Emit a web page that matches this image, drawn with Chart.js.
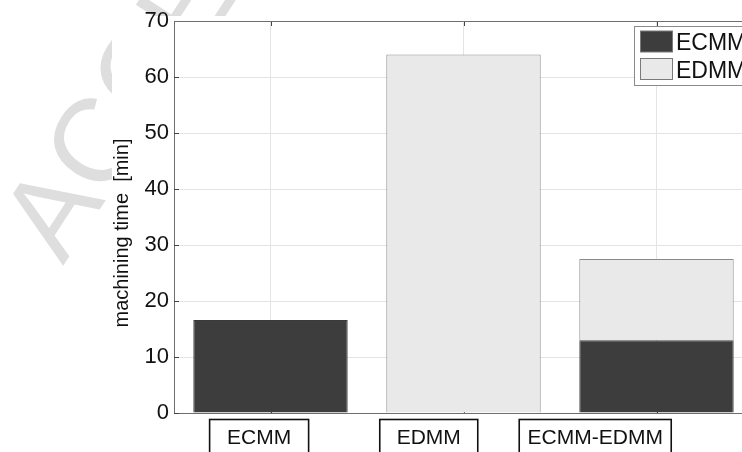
<!DOCTYPE html>
<html><head><meta charset="utf-8">
<script src="https://cdn.jsdelivr.net/npm/chart.js@4/dist/chart.umd.min.js"></script>
<style>
html,body{margin:0;padding:0;background:#fff;overflow:hidden;width:742px;height:452px;}
#wrap{position:absolute;left:0;top:0;width:770px;height:452px;}
</style></head><body>
<div id="wrap"><canvas id="c" width="770" height="452"></canvas></div>
<script>
// ---- data ----
const categories = ['ECMM', 'EDMM', 'ECMM-EDMM'];
const seriesNames = ['ECMM', 'EDMM'];
const ecmmTime = [16.6, null, 13.0];
const edmmTime = [null, 64.0, 14.5];
const yTicks = [0, 10, 20, 30, 40, 50, 60, 70];
const yTitle = 'machining time  [min]';
const watermarkText = 'ACCEPTED MANUSCRIPT';

// ---- style ----
const FONT = '"Liberation Sans", Arial, Helvetica, sans-serif';
const DARK = '#3d3d3d', LIGHT = '#e9e9e9';
const GRID = '#e4e4e4', AXIS = '#6e6e6e';
const labelAnchors = [0.147, 0.44, 0.7275];   // fractions of plot width (annotation boxes)
const labelBoxW = [99, 98, 152];
const wm = {x: 63, y: 266, angle: -57, size: 118, color: '#dedede'};
const figureInset = {left: 112, top: 16};      // watermark is hidden behind the figure

const decor = {
  id: 'decor',
  beforeDraw(chart) {
    const ctx = chart.ctx, a = chart.chartArea;
    ctx.save();
    ctx.fillStyle = '#fff';
    ctx.fillRect(0, 0, chart.width, chart.height);
    ctx.translate(wm.x, wm.y);
    ctx.rotate(wm.angle * Math.PI / 180);
    ctx.font = wm.size + 'px ' + FONT;
    ctx.fillStyle = wm.color;
    ctx.textBaseline = 'alphabetic';
    ctx.fillText(watermarkText, 0, 0);
    ctx.restore();
    ctx.save();
    ctx.fillStyle = '#fff';
    ctx.fillRect(figureInset.left, figureInset.top, chart.width, chart.height);
    ctx.restore();
  },
  beforeDatasetsDraw(chart) {
    const ctx = chart.ctx, a = chart.chartArea;
    const xs = chart.scales.x, ys = chart.scales.y;
    ctx.save();
    ctx.strokeStyle = '#444';
    ctx.lineWidth = 1;
    ctx.beginPath();
    ys.ticks.forEach(t => {
      const y = Math.round(ys.getPixelForValue(t.value)) + 0.5;
      ctx.moveTo(a.left, y); ctx.lineTo(a.left + 5, y);
    });
    categories.forEach((c, i) => {
      const x = Math.round(xs.getPixelForValue(i)) + 0.5;
      ctx.moveTo(x, a.top); ctx.lineTo(x, a.top + 5);
      ctx.moveTo(x, a.bottom); ctx.lineTo(x, a.bottom - 5);
    });
    ctx.stroke();
    ctx.restore();
  },
  afterDraw(chart) {
    const ctx = chart.ctx, a = chart.chartArea;
    ctx.save();
    // top / right border
    ctx.strokeStyle = AXIS; ctx.lineWidth = 1;
    ctx.beginPath();
    ctx.moveTo(a.left, Math.round(a.top) + 0.5);
    ctx.lineTo(a.right, Math.round(a.top) + 0.5);
    ctx.moveTo(Math.round(a.right) + 0.5, a.top);
    ctx.lineTo(Math.round(a.right) + 0.5, a.bottom);
    ctx.stroke();

    // y title
    ctx.save();
    ctx.translate(122.5, (a.top + a.bottom) / 2 + 16);
    ctx.rotate(-Math.PI / 2);
    ctx.font = '20px ' + FONT;
    ctx.fillStyle = '#111';
    ctx.textAlign = 'center';
    ctx.textBaseline = 'middle';
    ctx.fillText(yTitle, 0, 0);
    ctx.restore();

    // boxed category labels
    ctx.font = '21px ' + FONT;
    ctx.textAlign = 'center';
    ctx.textBaseline = 'alphabetic';
    categories.forEach((c, i) => {
      const cx = a.left + labelAnchors[i] * (a.right - a.left);
      const w = labelBoxW[i];
      ctx.fillStyle = '#fff';
      ctx.fillRect(cx - w / 2, a.bottom + 6.5, w, 40);
      ctx.strokeStyle = '#111'; ctx.lineWidth = 1.6;
      ctx.strokeRect(cx - w / 2, a.bottom + 6.5, w, 40);
      ctx.fillStyle = '#111';
      ctx.fillText(c, cx, a.bottom + 31);
    });

    // legend
    const lx = 634, ly = 26;
    ctx.fillStyle = '#fff';
    ctx.fillRect(lx, ly, 140, 59);
    ctx.strokeStyle = '#8a8a8a'; ctx.lineWidth = 1;
    ctx.strokeRect(lx + 0.5, ly + 0.5, 140, 59);
    ctx.font = '23px ' + FONT;
    ctx.textAlign = 'left';
    ctx.textBaseline = 'alphabetic';
    chart.data.datasets.forEach((ds, i) => {
      const sy = ly + 5 + i * 27.5;
      ctx.fillStyle = ds.backgroundColor;
      ctx.fillRect(lx + 6.5, sy, 32, 21);
      ctx.strokeStyle = '#7a7a7a';
      ctx.strokeRect(lx + 6.5, sy, 32, 21);
      ctx.fillStyle = '#111';
      ctx.fillText(ds.label, lx + 42, sy + 19);
    });
    ctx.restore();
  }
};

new Chart(document.getElementById('c'), {
  type: 'bar',
  data: {
    labels: categories,
    datasets: [
      {label: seriesNames[0], data: ecmmTime, backgroundColor: DARK, borderColor: '#3a3a3a',
       borderWidth: 1, barPercentage: 0.8, categoryPercentage: 1},
      {label: seriesNames[1], data: edmmTime, backgroundColor: LIGHT, borderColor: '#8a8a8a',
       borderWidth: 1, barPercentage: 0.8, categoryPercentage: 1}
    ]
  },
  options: {
    responsive: false,
    animation: false,
    devicePixelRatio: 1,
    layout: {padding: {left: 0, top: 21, right: 17, bottom: 0}},
    plugins: {legend: {display: false}, tooltip: {enabled: false}, title: {display: false}},
    scales: {
      x: {
        stacked: true, offset: true,
        grid: {offset: false, color: GRID, drawTicks: false},
        border: {color: AXIS},
        ticks: {display: false},
        afterFit(s) { s.height = 39; }
      },
      y: {
        stacked: true, min: 0, max: 70,
        afterBuildTicks(s) { s.ticks = yTicks.map(v => ({value: v})); },
        grid: {color: GRID, drawTicks: false},
        border: {color: AXIS},
        ticks: {font: {size: 22, family: FONT}, color: '#111', padding: 5},
        afterFit(s) { s.width = 174; }
      }
    }
  },
  plugins: [decor]
});
</script>
</body></html>
